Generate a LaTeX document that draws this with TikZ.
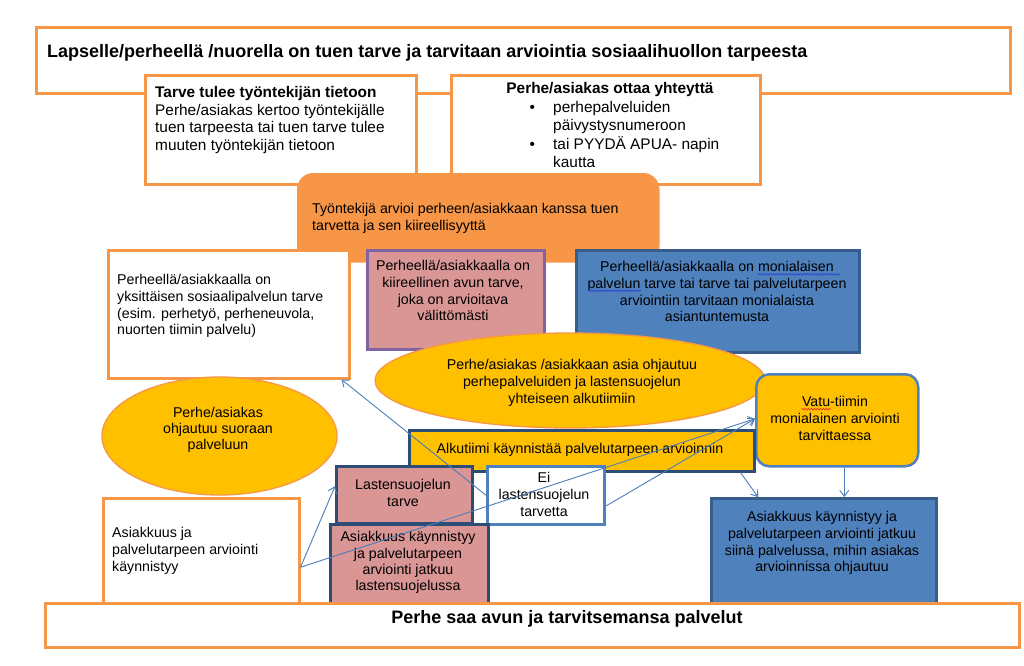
\documentclass[tikz,border=0pt]{standalone}
\usepackage{fontspec}
\setmainfont{Liberation Sans}
\usetikzlibrary{arrows.meta,shapes.geometric,calc,decorations.pathmorphing}
\definecolor{obord}{HTML}{F79646}
\definecolor{ofill}{HTML}{F79646}
\definecolor{yfill}{HTML}{FFC000}
\definecolor{pfill}{HTML}{D99694}
\definecolor{bfill}{HTML}{4F81BD}
\definecolor{bbord}{HTML}{385D8A}
\definecolor{purp}{HTML}{8064A2}
\definecolor{dblue}{HTML}{2C4D75}
\definecolor{lblue}{HTML}{4F81BD}
\definecolor{arrc}{HTML}{4A7EBB}
\definecolor{spellred}{HTML}{E8202A}
\definecolor{spellblue}{HTML}{2A3FD0}
\newcommand{\firststrut}{\rule{0pt}{0.8em}}
\tikzset{
  basebox/.style={rectangle, inner sep=0pt, anchor=north west, line width=2.5pt},
  obox/.style={basebox, draw=obord, fill=white},
  orbox/.style={basebox, draw=obord, fill=ofill, rounded corners=15pt},
  pbox/.style={basebox, draw=purp, fill=pfill},
  bbox/.style={basebox, draw=bbord, fill=bfill},
  dpbox/.style={basebox, draw=dblue, fill=pfill},
  ybox/.style={basebox, draw=dblue, fill=yfill},
  ebox/.style={basebox, draw=lblue, fill=white},
  vbox/.style={basebox, draw=lblue, fill=yfill, rounded corners=13pt},
  yell/.style={ellipse, inner sep=0pt, draw=obord, line width=1.3pt, fill=yfill},
  bigtxt/.style={inner sep=0pt, font=\fontsize{18}{21}\selectfont\bfseries},
  uptxt/.style={inner sep=0pt, font=\fontsize{15.4}{17.8}\selectfont},
  lowtxt/.style={inner sep=0pt, font=\fontsize{14.2}{16.6}\selectfont},
  conn/.style={draw=arrc, line width=0.9pt, -{Straight Barb[length=6pt,width=9pt,line width=0.9pt]}},
  wavy/.style={line width=0.6pt, decorate, decoration={snake, amplitude=0.8pt, segment length=3pt}},
}
\begin{document}
\begin{tikzpicture}[x=1pt,y=-1pt]
\useasboundingbox[fill=white] (0,0) rectangle (1024,665);
% top
\node[obox, minimum width=974pt, minimum height=66pt] (top) at (35,26) {};
\node[bigtxt, anchor=west] (ttop) at (47,53) {Lapselle/perheellä /nuorella on tuen tarve ja tarvitaan arviointia sosiaalihuollon tarpeesta};
% tarve
\node[obox, minimum width=271pt, minimum height=109pt] (tarve) at (144,74) {};
\node[uptxt, anchor=north west, align=left] (ttarve) at (155,84.8) {\firststrut\textbf{Tarve tulee työntekijän tietoon}\\Perhe/asiakas kertoo työntekijälle\\tuen tarpeesta tai tuen tarve tulee\\muuten työntekijän tietoon};
% yhteytta
\node[obox, minimum width=309pt, minimum height=109pt] (yht) at (450,74) {};
\node[uptxt, anchor=north, font=\fontsize{15.4}{17.8}\selectfont\bfseries] (tyht) at (610,80.8) {\firststrut Perhe/asiakas ottaa yhteyttä};
\node[uptxt, anchor=north west] (tyhtb) at (529.5,99.8) {\begin{tabular}{@{}p{23.5pt}@{}l@{}}\textbullet & perhepalveluiden\\ & päivystysnumeroon\\[1.5pt] \textbullet & tai PYYDÄ APUA- napin\\ & kautta\end{tabular}};
% orange
\node[orbox, minimum width=360pt, minimum height=87pt] (arvioi) at (297,173) {};
\node[lowtxt, anchor=north west, align=left] (tarvioi) at (312,202.3) {\firststrut Työntekijä arvioi perheen/asiakkaan kanssa tuen\\tarvetta ja sen kiireellisyyttä};
% left white
\node[obox, minimum width=241pt, minimum height=128pt] (yksi) at (107,249) {};
\node[lowtxt, anchor=north west, align=left] (tyksi) at (117,273.3) {\firststrut Perheellä/asiakkaalla on\\yksittäisen sosiaalipalvelun tarve\\(esim. perhetyö, perheneuvola,\\nuorten tiimin palvelu)};
% kiireellinen
\node[pbox, minimum width=177pt, minimum height=99pt] (kiir) at (366,249) {};
\node[lowtxt, anchor=north, align=center] (tkiir) at (453,259.3) {\firststrut Perheellä/asiakkaalla on\\kiireellinen avun tarve,\\joka on arvioitava\\välittömästi};
% monialainen
\node[bbox, minimum width=283pt, minimum height=102pt] (moni) at (575,249) {};
\node[lowtxt, anchor=north, align=center] (tmoni) at (717,260.3) {\firststrut Perheellä/asiakkaalla on monialaisen\\palvelun tarve tai tarve tai palvelutarpeen\\arviointiin tarvitaan monialaista\\asiantuntemusta};
\draw[wavy, draw=spellblue] (758,274.3) -- (840,274.3);
\draw[wavy, draw=spellblue] (588,290.8) -- (641,290.8);
% big ellipse
\node[yell, minimum width=390pt, minimum height=95pt] (alkuell) at (570,380.5) {};
\node[lowtxt, anchor=north, align=center] (talkuell) at (572,358.3) {\firststrut Perhe/asiakas /asiakkaan asia ohjautuu\\perhepalveluiden ja lastensuojelun\\yhteiseen alkutiimiin};
% left ellipse
\node[yell, minimum width=235pt, minimum height=118pt] (suora) at (219.5,436) {};
\node[lowtxt, anchor=north, align=center, font=\fontsize{14.2}{15.6}\selectfont] (tsuora) at (218,406.3) {\firststrut Perhe/asiakas\\ohjautuu suoraan\\palveluun};
% vatu
\node[vbox, minimum width=162pt, minimum height=92pt] (vatu) at (755,373) {};
\node[lowtxt, anchor=north, align=center] (tvatu) at (835,395.3) {\firststrut Vatu-tiimin\\monialainen arviointi\\tarvittaessa};
\draw[wavy, draw=spellred] (801.5,409.2) -- (830.5,409.2);
% alkutiimi
\node[ybox, minimum width=345pt, minimum height=41pt] (alku) at (408,429) {};
\node[lowtxt] (talku) at (580,450) {Alkutiimi käynnistää palvelutarpeen arvioinnin};
% lastensuojelun tarve
\node[dpbox, minimum width=136pt, minimum height=57pt] (ls) at (335,465) {};
\node[lowtxt, anchor=north, align=center] (tls) at (403,478.3) {\firststrut Lastensuojelun\\tarve};
% ei
\node[ebox, minimum width=117pt, minimum height=58pt] (ei) at (486,465) {};
\node[lowtxt, anchor=north, align=center] (tei) at (544,471.3) {\firststrut Ei\\lastensuojelun\\tarvetta};
% pink asiakkuus
\node[dpbox, minimum width=158pt, minimum height=79pt] (lsjatk) at (329,523) {};
\node[lowtxt, anchor=north, align=center, font=\fontsize{14.2}{16.3}\selectfont] (tlsjatk) at (408,530.3) {\firststrut Asiakkuus käynnistyy\\ja palvelutarpeen\\arviointi jatkuu\\lastensuojelussa};
% white asiakkuus
\node[obox, minimum width=196pt, minimum height=105pt] (asiak) at (102,497) {};
\node[lowtxt, anchor=north west, align=left] (tasiak) at (112,526.3) {\firststrut Asiakkuus ja\\palvelutarpeen arviointi\\käynnistyy};
% blue bottom
\node[bbox, minimum width=225pt, minimum height=105pt] (jatkuu) at (710,497) {};
\node[lowtxt, anchor=north, align=center] (tjatkuu) at (822,510.3) {\firststrut Asiakkuus käynnistyy ja\\palvelutarpeen arviointi jatkuu\\siinä palvelussa, mihin asiakas\\arvioinnissa ohjautuu};
% bottom
\node[obox, minimum width=974pt, minimum height=44pt] (loppu) at (44,602) {};
\node[bigtxt] (tloppu) at (567,619) {Perhe saa avun ja tarvitsemansa palvelut};
% connectors
\draw[conn] ([yshift=-16.5pt]asiak.east) -- ([yshift=8.5pt]ls.west);
\draw[conn] ([yshift=-16.5pt]asiak.east) -- ([yshift=1.5pt]vatu.west);
\draw[conn] ([yshift=-11pt]ei.east) -- ([yshift=1.5pt]vatu.west);
\draw[conn] (ei.west) -- ([xshift=-9pt]yksi.south east);
\draw[conn] ([xshift=-15pt]alku.south east) -- ([xshift=48pt]jatkuu.north west);
\draw[conn] ([xshift=7pt]vatu.south) -- ([xshift=7pt]vatu.south |- jatkuu.north);
\end{tikzpicture}
\end{document}
